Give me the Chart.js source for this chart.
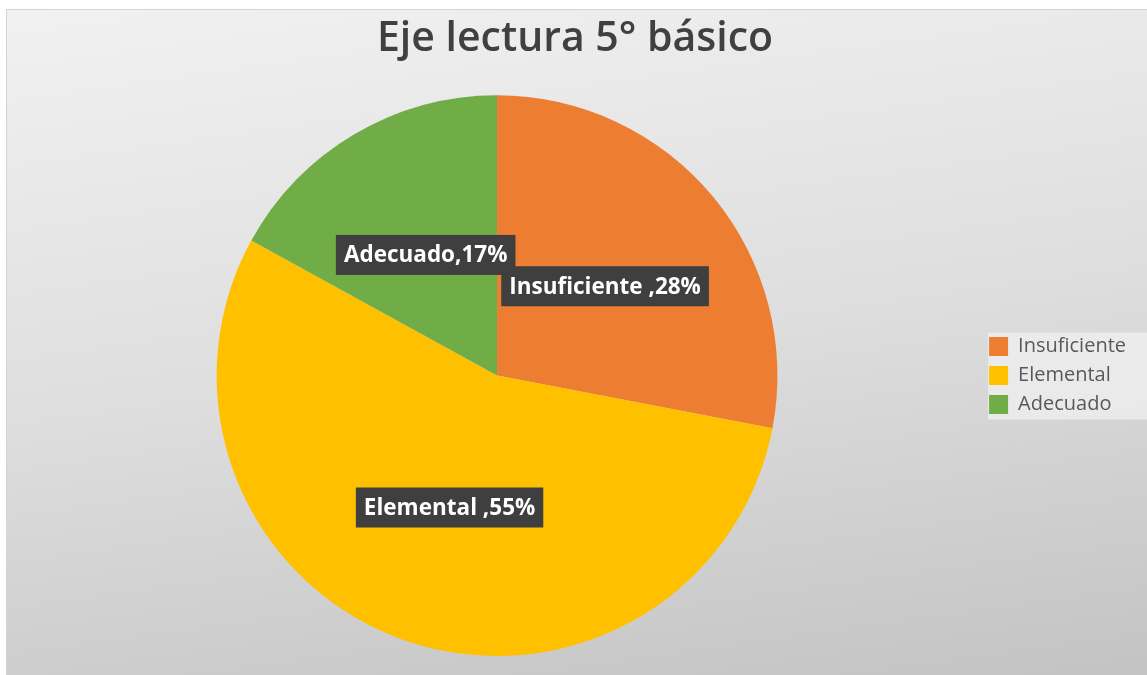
<!DOCTYPE html>
<html>
<head>
<meta charset="utf-8">
<script src="https://cdn.jsdelivr.net/npm/chart.js@4"></script>
<style>
html,body{margin:0;padding:0;background:#fff;}
#frame{
  position:absolute; left:6px; top:9px; width:1141px; height:666px;
  border-top:1px solid #d4d4d4; border-left:1px solid #d4d4d4;
  box-sizing:border-box;
  background:linear-gradient(172deg,#f1f1f1 0%,#dedede 50%,#c3c3c3 100%);
}
#chart{display:block;}
</style>
</head>
<body>
<div id="frame"><canvas id="chart" width="1140" height="665"></canvas></div>
<script>

const labels = ["Insuficiente", "Elemental", "Adecuado"];
const values = [28, 55, 17];
const colors = ["#ED7D31", "#FFC000", "#70AD47"];
const pointLabels = ["Insuficiente ,28%", "Elemental ,55%", "Adecuado,17%"];


/* ===== legend background box ===== */
const legendBox = {
  id: "legendBox",
  beforeDraw(chart){
    const boxes = chart.legend?.legendHitBoxes;
    if(!boxes || !boxes.length) return;
    const ctx = chart.ctx;
    const top = boxes[0].top - 4;
    const bottom = boxes[boxes.length-1].top + boxes[boxes.length-1].height + 5;
    ctx.save();
    ctx.fillStyle = "rgba(240,240,240,0.75)";
    ctx.fillRect(boxes[0].left - 1, top, chart.width - boxes[0].left + 1, bottom - top);
    ctx.restore();
  }
};


/* ===== data labels with dark boxes ===== */
const darkLabels = {
  id: "darkLabels",
  afterDatasetsDraw(chart){
    const ctx = chart.ctx;
    const meta = chart.getDatasetMeta(0);
    ctx.save();
    ctx.font = "bold 22.5px 'Open Sans'";
    ctx.textAlign = "center";
    ctx.textBaseline = "middle";
    meta.data.forEach((arc, i) => {
      const pos = arc.tooltipPosition();
      const txt = pointLabels[i];
      const w = ctx.measureText(txt).width + 16;
      const h = 40;
      ctx.fillStyle = "#3f3f3f";
      ctx.fillRect(pos.x - w/2, pos.y - h/2, w, h);
      ctx.fillStyle = "#ffffff";
      ctx.fillText(txt, pos.x, pos.y + 1);
    });
    ctx.restore();
  }
};


new Chart(document.getElementById("chart"), {
  type: "pie",
  data: {
    labels: labels,
    datasets: [{
      data: values,
      backgroundColor: colors,
      borderWidth: 0
    }]
  },
  options: {
    responsive: false,
    animation: false,
    layout: { padding: { left: 7, right: 11, bottom: 19, top: 0 } },
    plugins: {
      title: {
        display: true,
        text: "Eje lectura 5° básico",
        color: "#404040",
        font: { family: "'Open Sans'", size: 41, weight: "600", lineHeight: 1.2 },
        padding: { top: 5, bottom: 31 }
      },
      legend: {
        position: "right",
        fullSize: false,
        labels: {
          color: "#595959",
          font: { family: "'Open Sans'", size: 20 },
          boxWidth: 19,
          boxHeight: 19,
          padding: 9
        }
      },
      tooltip: { enabled: false }
    }
  },
  plugins: [legendBox, darkLabels]
});

</script>
</body>
</html>
